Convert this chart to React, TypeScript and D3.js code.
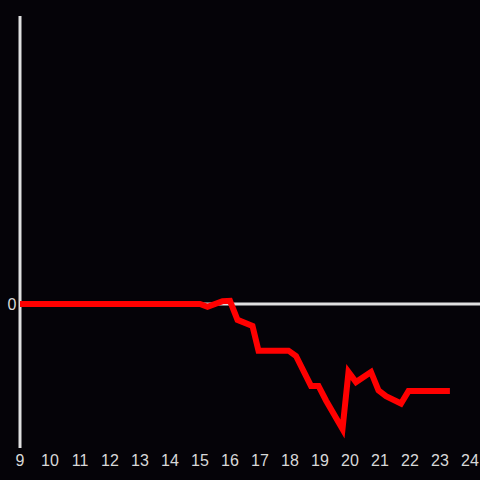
import React from "react";
import * as d3 from "d3";

const hours: number[] = [9, 15, 15.25, 15.75, 16, 16.25, 16.75, 16.95, 17.95, 18.2, 18.7, 18.95, 19.2, 19.75, 19.95, 20.2, 20.7, 20.95, 21.2, 21.7, 21.95, 23.33];
const values: number[] = [0, 0, -0.02, 0.02, 0.022, -0.11, -0.153, -0.324, -0.324, -0.361, -0.569, -0.569, -0.67, -0.868, -0.472, -0.542, -0.472, -0.6, -0.64, -0.691, -0.605, -0.605];
const xTicks: number[] = [9, 10, 11, 12, 13, 14, 15, 16, 17, 18, 19, 20, 21, 22, 23, 24];
const yTicks: number[] = [0];

const W = 480;
const H = 480;

export default function App() {
  const x = d3.scaleLinear().domain([9, 24]).range([20, 470]);
  const y = d3.scaleLinear().domain([-1, 2]).range([448, 16]);
  const data = hours.map((h, i) => [h, values[i]] as [number, number]);
  const line = d3
    .line<[number, number]>()
    .x((d) => x(d[0]))
    .y((d) => y(d[1]));
  const font = "'Liberation Sans', Arial, sans-serif";
  return (
    <svg
      width={W}
      height={H}
      style={{ position: "fixed", left: 0, top: 0, display: "block" }}
    >
      <rect x={0} y={0} width={W} height={H} fill="#050308" />
      <line x1={x(9)} x2={x(9)} y1={16} y2={448} stroke="#e0e0e0" strokeWidth={3} />
      <line x1={x(9)} x2={W} y1={y(0)} y2={y(0)} stroke="#e0e0e0" strokeWidth={3} />
      {xTicks.map((t) => (
        <text
          key={t}
          x={x(t)}
          y={466}
          textAnchor="middle"
          fill="#d8d8d8"
          fontSize={16}
          fontFamily={font}
        >
          {t}
        </text>
      ))}
      {yTicks.map((t) => (
        <text
          key={t}
          x={16.5}
          y={y(t) + 6}
          textAnchor="end"
          fill="#d8d8d8"
          fontSize={16}
          fontFamily={font}
        >
          {t}
        </text>
      ))}
      <path d={line(data) || ""} fill="none" stroke="#ff0000" strokeWidth={6} strokeLinejoin="miter" />
    </svg>
  );
}
